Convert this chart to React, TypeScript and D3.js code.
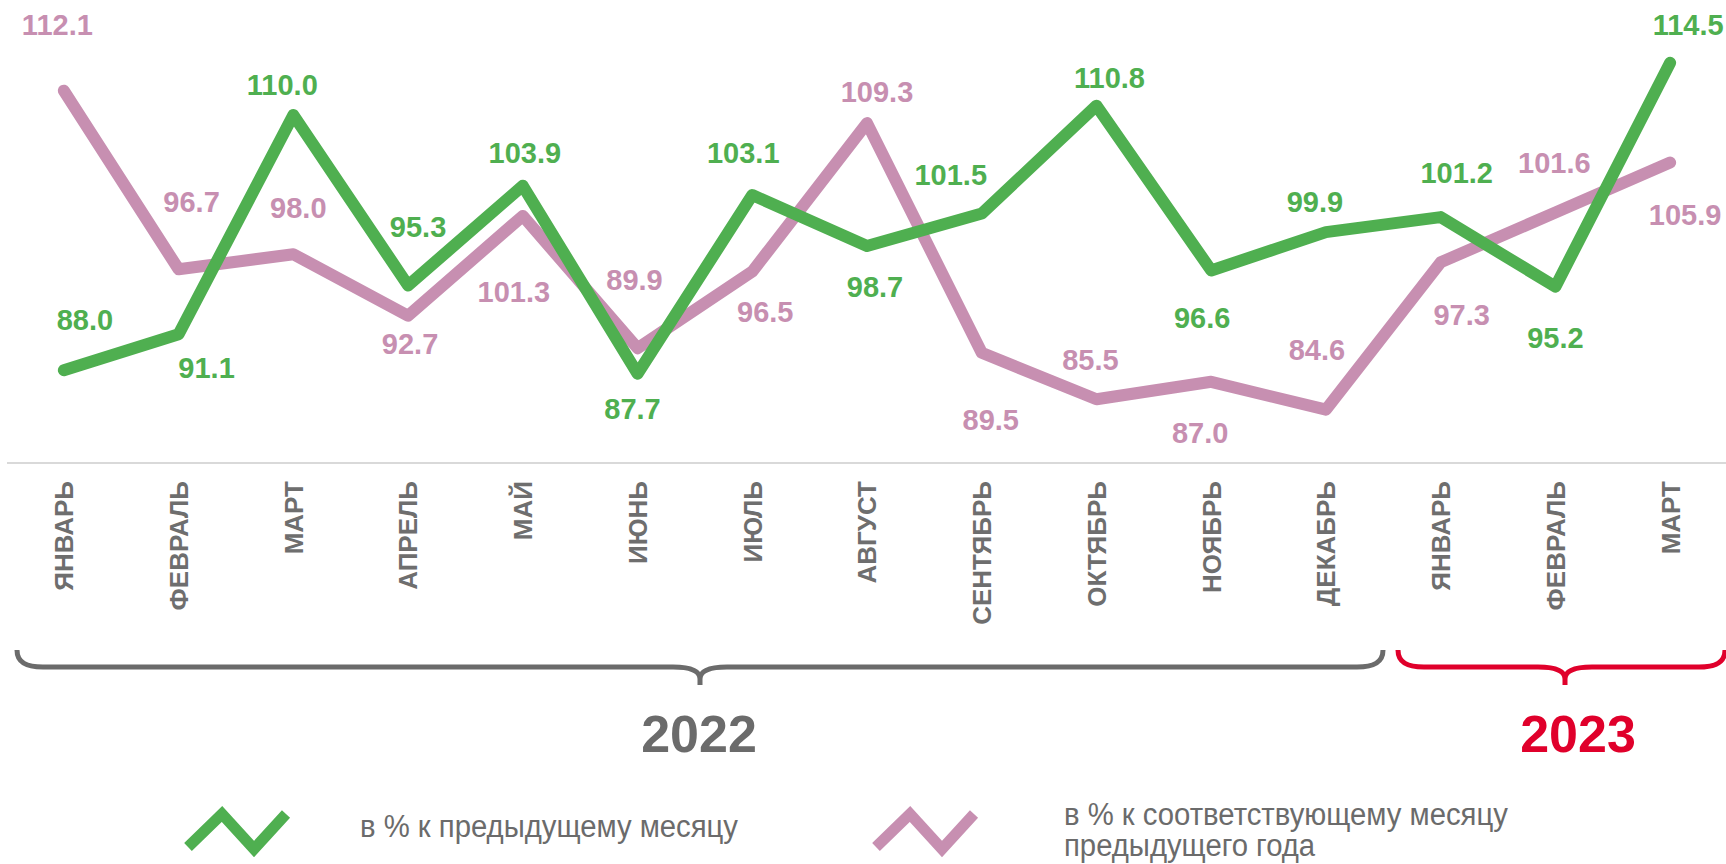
import React, { useEffect } from "react";
import * as d3 from "d3";

const months = ["ЯНВАРЬ", "ФЕВРАЛЬ", "МАРТ", "АПРЕЛЬ", "МАЙ", "ИЮНЬ", "ИЮЛЬ", "АВГУСТ", "СЕНТЯБРЬ", "ОКТЯБРЬ", "НОЯБРЬ", "ДЕКАБРЬ", "ЯНВАРЬ", "ФЕВРАЛЬ", "МАРТ"];
const momValues = [88.0, 91.1, 110.0, 95.3, 103.9, 87.7, 103.1, 98.7, 101.5, 110.8, 96.6, 99.9, 101.2, 95.2, 114.5];
const yoyValues = [112.1, 96.7, 98.0, 92.7, 101.3, 89.9, 96.5, 109.3, 89.5, 85.5, 87.0, 84.6, 97.3, 101.6, 105.9];
const years = ["2022", "2023"];
const legendLabels = ["в % к предыдущему месяцу", "в % к соответствующему месяцу", "предыдущего года"];

// label placement offsets (dx, dy of baseline) relative to points
const momLabelOffsets = [[21, -40], [28, 44], [-11, -20], [10, -49], [2, -23], [-5, 45], [-9, -32], [8, 51], [-31, -29], [13, -18], [-9, 58], [-11, -20], [16, -34], [0, 61], [18, -28]];
const yoyLabelOffsets = [[-6.5, -56], [13, -57], [5, -36], [2, 38], [-9, 86], [-3, -58], [13, 50], [10, -21], [9, 77], [-6, -29], [-11, 61], [-9, -50], [21, 63], [-1, -39], [15, 62]];

const W = 1726;
const H = 864;
const GREEN = "#4FAF50";
const PINK = "#C78FB1";
const GRAY = "#6B6B6B";
const RED = "#E0002B";
const FONT = "'Liberation Sans', Arial, sans-serif";

function bracePath(x0: number, x1: number, xm: number, yEnd: number, yLine: number, yTip: number) {
  return [
    `M ${x0} ${yEnd}`,
    `C ${x0} ${yLine - 4}, ${x0 + 10} ${yLine}, ${x0 + 26} ${yLine}`,
    `L ${xm - 27} ${yLine}`,
    `C ${xm - 10} ${yLine}, ${xm} ${yLine + 3}, ${xm} ${yLine + 12}`,
    `L ${xm} ${yTip}`,
    `M ${xm} ${yLine + 12}`,
    `C ${xm} ${yLine + 3}, ${xm + 10} ${yLine}, ${xm + 27} ${yLine}`,
    `L ${x1 - 26} ${yLine}`,
    `C ${x1 - 10} ${yLine}, ${x1} ${yLine - 4}, ${x1} ${yEnd}`,
  ].join(" ");
}

export default function App() {
  useEffect(() => {
    document.body.style.margin = "0";
    document.body.style.overflow = "hidden";
  }, []);

  const idx = months.map((_, i) => String(i));
  const x = d3.scaleBand<string>().domain(idx).range([6.5, 1727.5]).padding(0);
  const cx = (i: number) => (x(String(i)) as number) + x.bandwidth() / 2;
  const y = d3.scaleLinear().domain([80, 120]).range([463, -1]);

  const line = d3
    .line<number>()
    .x((_, i) => cx(i))
    .y((d) => y(d));

  const braceEnds = [[17, 1383, 700], [1398, 1725, 1565]];
  const yearX = [699, 1578];
  const yearColors = [GRAY, RED];

  const legendIcon = (ox: number) =>
    d3.line<[number, number]>()([
      [ox, 847],
      [ox + 34, 814],
      [ox + 66, 849],
      [ox + 98, 814],
    ]) as string;

  const legendText = (tx: number, ty: number, s: string) => (
    <text transform={`translate(${tx},${ty}) scale(0.945,1)`} fontSize={31} fill={GRAY}>{s}</text>
  );

  return (
    <svg width={W} height={H} style={{ position: "absolute", left: 0, top: 0, display: "block", background: "#fff" }} fontFamily={FONT}>
      {/* baseline */}
      <line x1={7} x2={1726} y1={y(80)} y2={y(80)} stroke="#D9D9D9" strokeWidth={2} />

      {/* series lines */}
      <path d={line(yoyValues) as string} fill="none" stroke={PINK} strokeWidth={12} strokeLinejoin="round" strokeLinecap="round" />
      <path d={line(momValues) as string} fill="none" stroke={GREEN} strokeWidth={12} strokeLinejoin="round" strokeLinecap="round" />

      {/* data labels */}
      {yoyValues.map((v, i) => (
        <text key={"p" + i} x={cx(i) + yoyLabelOffsets[i][0]} y={y(v) + yoyLabelOffsets[i][1]} textAnchor="middle" fontSize={29} fontWeight="bold" fill={PINK}>
          {v.toFixed(1)}
        </text>
      ))}
      {momValues.map((v, i) => (
        <text key={"g" + i} x={cx(i) + momLabelOffsets[i][0]} y={y(v) + momLabelOffsets[i][1]} textAnchor="middle" fontSize={29} fontWeight="bold" fill={GREEN}>
          {v.toFixed(1)}
        </text>
      ))}

      {/* month labels */}
      {months.map((m, i) => (
        <text key={"m" + i} transform={`translate(${cx(i)},481) rotate(-90)`} textAnchor="end" dy="0.36em" fontSize={26} fontWeight="bold" fill="#6E6E6E">
          {m}
        </text>
      ))}

      {/* year braces */}
      {years.map((yr, k) => (
        <g key={yr}>
          <path d={bracePath(braceEnds[k][0], braceEnds[k][1], braceEnds[k][2], 650, 667, 685)} fill="none" stroke={yearColors[k]} strokeWidth={5} />
          <text x={yearX[k]} y={752} textAnchor="middle" fontSize={52} fontWeight="bold" fill={yearColors[k]}>
            {yr}
          </text>
        </g>
      ))}

      {/* legend */}
      <path d={legendIcon(188)} fill="none" stroke={GREEN} strokeWidth={11} strokeLinejoin="miter" />
      {legendText(360, 837, legendLabels[0])}
      <path d={legendIcon(876)} fill="none" stroke={PINK} strokeWidth={11} strokeLinejoin="miter" />
      {legendText(1064, 825, legendLabels[1])}
      {legendText(1064, 856, legendLabels[2])}
    </svg>
  );
}
